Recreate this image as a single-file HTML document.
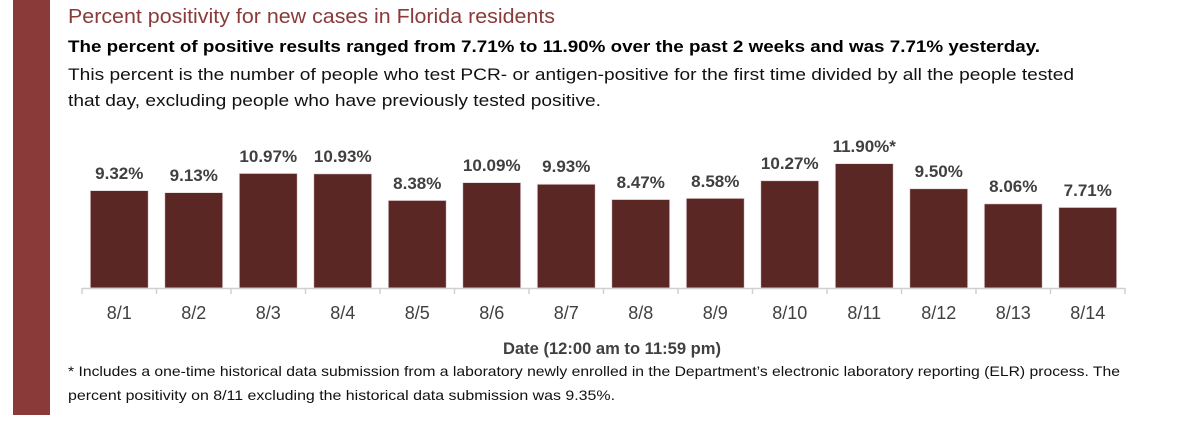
<!DOCTYPE html>
<html><head><meta charset="utf-8"><style>html,body{margin:0;padding:0;background:#fff;width:1200px;height:422px;overflow:hidden}</style></head>
<body>
<svg width="1200" height="422" viewBox="0 0 1200 422" xmlns="http://www.w3.org/2000/svg" font-family="Liberation Sans, Arial, sans-serif">
<rect x="13" y="0" width="37" height="415" fill="#8b3a3a"/>
<text x="68" y="23" font-size="20" fill="#8b3a3a" textLength="487" lengthAdjust="spacingAndGlyphs">Percent positivity for new cases in Florida residents</text>
<text x="68" y="52" font-size="17" font-weight="bold" fill="#000" textLength="972" lengthAdjust="spacingAndGlyphs">The percent of positive results ranged from 7.71% to 11.90% over the past 2 weeks and was 7.71% yesterday.</text>
<text x="68" y="80" font-size="17" fill="#111" textLength="1006" lengthAdjust="spacingAndGlyphs">This percent is the number of people who test PCR- or antigen-positive for the first time divided by all the people tested</text>
<text x="68" y="106" font-size="17" fill="#111" textLength="533" lengthAdjust="spacingAndGlyphs">that day, excluding people who have previously tested positive.</text>
<g fill="#5a2725" stroke="#e8dcdc" stroke-width="0.8">
<rect x="90.25" y="190.6" width="58" height="97.4"/>
<rect x="164.75" y="192.6" width="58" height="95.4"/>
<rect x="239.25" y="173.4" width="58" height="114.6"/>
<rect x="313.75" y="173.8" width="58" height="114.2"/>
<rect x="388.25" y="200.4" width="58" height="87.6"/>
<rect x="462.75" y="182.6" width="58" height="105.4"/>
<rect x="537.25" y="184.2" width="58" height="103.8"/>
<rect x="611.75" y="199.5" width="58" height="88.5"/>
<rect x="686.25" y="198.3" width="58" height="89.7"/>
<rect x="760.75" y="180.7" width="58" height="107.3"/>
<rect x="835.25" y="163.6" width="58" height="124.4"/>
<rect x="909.75" y="188.7" width="58" height="99.3"/>
<rect x="984.25" y="203.8" width="58" height="84.2"/>
<rect x="1058.75" y="207.4" width="58" height="80.6"/>
</g>
<g font-weight="bold" font-size="17" fill="#404040" text-anchor="middle">
<text x="119.25" y="179">9.32%</text>
<text x="193.75" y="181">9.13%</text>
<text x="268.25" y="162">10.97%</text>
<text x="342.75" y="162">10.93%</text>
<text x="417.25" y="189">8.38%</text>
<text x="491.75" y="171">10.09%</text>
<text x="566.25" y="172">9.93%</text>
<text x="640.75" y="188">8.47%</text>
<text x="715.25" y="187">8.58%</text>
<text x="789.75" y="169">10.27%</text>
<text x="864.25" y="152">11.90%*</text>
<text x="938.75" y="177">9.50%</text>
<text x="1013.25" y="192">8.06%</text>
<text x="1087.75" y="196">7.71%</text>
</g>
<line x1="82" y1="288.5" x2="1125" y2="288.5" stroke="#d0d0d0" stroke-width="1.5"/>
<g stroke="#d0d0d0" stroke-width="1.5">
<line x1="82" y1="288" x2="82" y2="294"/><line x1="156.5" y1="288" x2="156.5" y2="294"/><line x1="231" y1="288" x2="231" y2="294"/><line x1="305.5" y1="288" x2="305.5" y2="294"/><line x1="380" y1="288" x2="380" y2="294"/><line x1="454.5" y1="288" x2="454.5" y2="294"/><line x1="529" y1="288" x2="529" y2="294"/><line x1="603.5" y1="288" x2="603.5" y2="294"/><line x1="678" y1="288" x2="678" y2="294"/><line x1="752.5" y1="288" x2="752.5" y2="294"/><line x1="827" y1="288" x2="827" y2="294"/><line x1="901.5" y1="288" x2="901.5" y2="294"/><line x1="976" y1="288" x2="976" y2="294"/><line x1="1050.5" y1="288" x2="1050.5" y2="294"/><line x1="1125" y1="288" x2="1125" y2="294"/>
</g>
<g font-size="18" fill="#404040" text-anchor="middle">
<text x="119.25" y="319">8/1</text><text x="193.75" y="319">8/2</text><text x="268.25" y="319">8/3</text><text x="342.75" y="319">8/4</text><text x="417.25" y="319">8/5</text><text x="491.75" y="319">8/6</text><text x="566.25" y="319">8/7</text><text x="640.75" y="319">8/8</text><text x="715.25" y="319">8/9</text><text x="789.75" y="319">8/10</text><text x="864.25" y="319">8/11</text><text x="938.75" y="319">8/12</text><text x="1013.25" y="319">8/13</text><text x="1087.75" y="319">8/14</text>
</g>
<text x="612" y="354" font-size="17" font-weight="bold" fill="#404040" text-anchor="middle" textLength="218" lengthAdjust="spacingAndGlyphs">Date (12:00 am to 11:59 pm)</text>
<text x="68" y="376" font-size="14" fill="#111" textLength="1052" lengthAdjust="spacingAndGlyphs">* Includes a one-time historical data submission from a laboratory newly enrolled in the Department’s electronic laboratory reporting (ELR) process. The</text>
<text x="68" y="400" font-size="14" fill="#111" textLength="547" lengthAdjust="spacingAndGlyphs">percent positivity on 8/11 excluding the historical data submission was 9.35%.</text>
</svg>
</body></html>
